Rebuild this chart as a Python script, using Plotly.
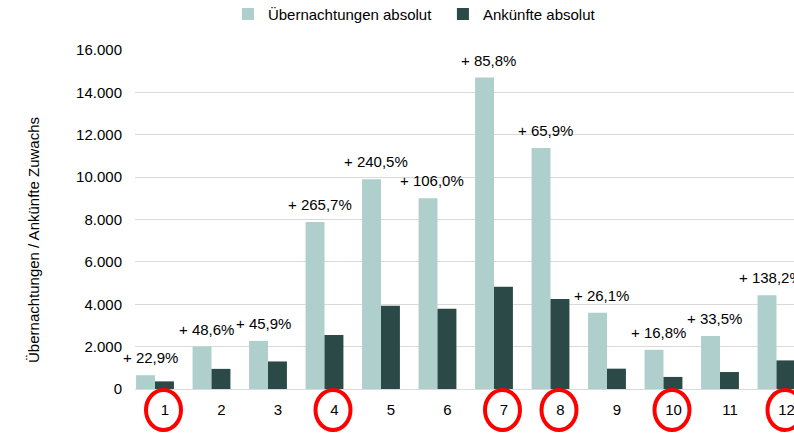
import plotly.graph_objects as go

# ---------------------------------------------------------------------------
# Data
# ---------------------------------------------------------------------------
categories = ["1", "2", "3", "4", "5", "6", "7", "8", "9", "10", "11", "12"]
uebernachtungen = [650, 2000, 2270, 7880, 9900, 9000, 14700, 11370, 3600, 1850, 2500, 4430]
ankuenfte = [360, 950, 1300, 2550, 3930, 3790, 4830, 4250, 960, 570, 800, 1350]
zuwachs_pct = [22.9, 48.6, 45.9, 265.7, 240.5, 106.0, 85.8, 65.9, 26.1, 16.8, 33.5, 138.2]
highlighted = ["1", "4", "7", "8", "10", "12"]

LIGHT = "#aecfcc"
DARK = "#2b4a47"
FONT = "Liberation Sans, Arial, sans-serif"

fig = go.Figure()

fig.add_trace(go.Bar(
    x=categories, y=uebernachtungen,
    name="Übernachtungen absolut",
    marker=dict(color=LIGHT, line=dict(width=0)),
))
fig.add_trace(go.Bar(
    x=categories, y=ankuenfte,
    name="Ankünfte absolut",
    marker=dict(color=DARK, line=dict(width=0)),
))

# -- growth labels above the light bars --------------------------------------
# category axis: annotations/shapes are placed by category index
for i, (val, pct) in enumerate(zip(uebernachtungen, zuwachs_pct)):
    fig.add_annotation(
        x=i, y=val, xref="x", yref="y",
        text=("+ %.1f%%" % pct).replace(".", ","),
        showarrow=False,
        xanchor="center", yanchor="bottom",
        xshift=-5, yshift=7,
        font=dict(size=15, color="#000000", family=FONT),
    )

# -- red ellipses round the highlighted month labels -------------------------
for cat in highlighted:
    fig.add_shape(
        type="circle",
        xref="x", yref="paper",
        xsizemode="pixel", ysizemode="pixel",
        xanchor=categories.index(cat), yanchor=0,
        x0=-9, x1=26, y0=-1, y1=-41,
        line=dict(color="#ff0000", width=4),
        fillcolor="rgba(0,0,0,0)",
    )

# -- y axis title -------------------------------------------------------------
fig.add_annotation(
    text="Übernachtungen / Ankünfte Zuwachs",
    xref="paper", yref="paper", x=-0.169, y=0.44,
    textangle=-90, showarrow=False,
    font=dict(size=15, color="#000000", family=FONT),
)

fig.update_layout(
    width=794, height=433,
    margin=dict(l=135, r=0, t=50, b=44, autoexpand=False),
    paper_bgcolor="white", plot_bgcolor="white",
    font=dict(family=FONT, size=15, color="#000000"),
    separators=",.",
    barmode="group", bargap=0.33, bargroupgap=0,
    showlegend=True,
    legend=dict(
        orientation="h",
        x=0.141, xanchor="left",
        y=1.154, yanchor="top",
        font=dict(size=15, family=FONT),
        traceorder="normal",
        entrywidth=170,
        itemclick=False,
    ),
    xaxis=dict(
        type="category",
        range=[-0.354, 11.31],
        automargin=False,
        showgrid=False, zeroline=False,
        showline=False, ticks="",
        ticklabelshift=10, ticklabelstandoff=10,
        tickfont=dict(size=15),
    ),
    yaxis=dict(
        range=[0, 16000], dtick=2000,
        tickformat=",d",
        automargin=False,
        showgrid=True, gridcolor="#d9d9d9", gridwidth=1,
        zeroline=True, zerolinecolor="#d9d9d9", zerolinewidth=1,
        showline=False, ticks="",
        ticklabelstandoff=12,
        tickfont=dict(size=15),
    ),
)

# page body has a default 8px margin; drop it so the figure fills the window
fig.write_html(
    "out.html",
    config={"displayModeBar": False},
    post_script="document.body.style.margin='0';document.body.style.overflow='hidden';",
)
